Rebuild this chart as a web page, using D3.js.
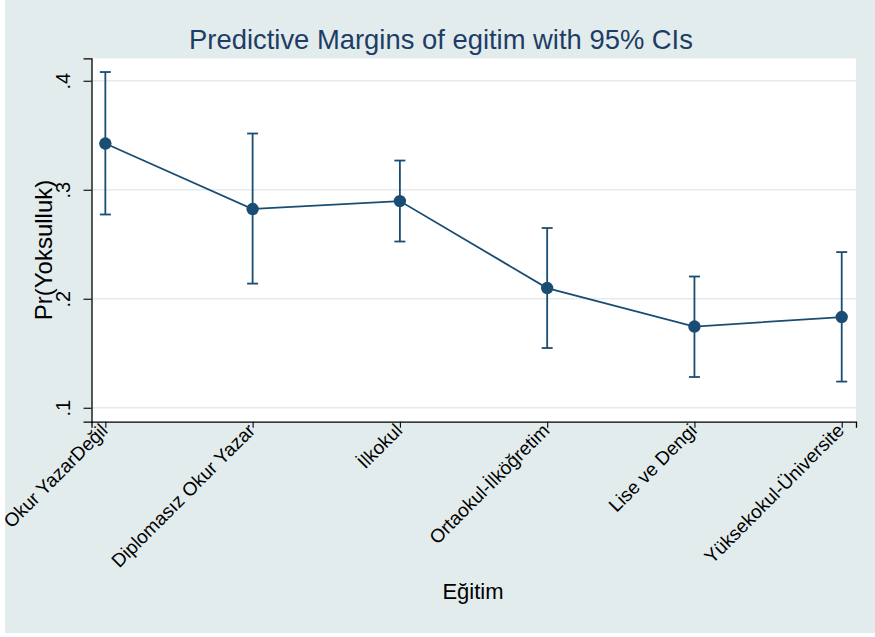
<!DOCTYPE html>
<html>
<head>
<meta charset="utf-8">
<script src="https://cdn.jsdelivr.net/npm/d3@7"></script>
<style>
  body { margin: 0; background: #fff; }
  text { font-family: "Liberation Sans", Arial, sans-serif; }
</style>
</head>
<body>
<div id="chart"></div>
<script>
// categories and margins
const categories = ["Okur YazarDeğil", "Diplomasız Okur Yazar", "İlkokul",
                    "Ortaokul-İlköğretim", "Lise ve Dengi", "Yüksekokul-Üniversite"];
const margins = [0.3424, 0.2823, 0.2896, 0.2098, 0.1745, 0.1832];
const ciLow   = [0.2773, 0.2139, 0.2525, 0.1548, 0.1282, 0.1240];
const ciHigh  = [0.4080, 0.3516, 0.3268, 0.2649, 0.2204, 0.2428];
const yTicks = [0.1, 0.2, 0.3, 0.4];

const w = 875, h = 637;
const plotL = 91.5, plotR = 856, plotT = 58.3, plotB = 421.7;
const navy = "#1a4d73";

const svg = d3.select("#chart").append("svg")
    .attr("width", w).attr("height", h);

// outer background
svg.append("rect").attr("x", 5).attr("y", 0).attr("width", w - 5).attr("height", 633)
    .attr("fill", "#e3ecec");
svg.append("rect").attr("x", plotL).attr("y", plotT)
    .attr("width", plotR - plotL).attr("height", plotB - plotT).attr("fill", "#fff");

const xScale = d3.scaleLinear().domain([0.906, 6.097]).range([plotL, plotR]);
const yScale = d3.scaleLinear().domain([0.0872, 0.4206]).range([plotB, plotT]);

// grid
svg.append("g").selectAll("line").data(yTicks).enter().append("line")
    .attr("x1", plotL).attr("x2", plotR)
    .attr("y1", d => yScale(d)).attr("y2", d => yScale(d))
    .attr("stroke", "#e3ecec").attr("stroke-width", 1.6);

// y axis
const yAxis = d3.axisLeft(yScale).tickValues(yTicks).tickSize(8)
    .tickFormat(d => d3.format(".1f")(d).replace(/^0/, ""));
const gy = svg.append("g").attr("transform", "translate(" + plotL + ",0)").call(yAxis);
gy.select(".domain").attr("stroke", "#000").attr("stroke-width", 1.3);
gy.selectAll(".tick line").attr("stroke", "#000").attr("stroke-width", 1.1);
gy.selectAll(".tick text")
    .attr("font-size", 20).attr("fill", "#000")
    .attr("text-anchor", "middle")
    .attr("x", 0).attr("y", 0).attr("dy", 0)
    .attr("transform", "translate(-22,0) rotate(-90)");

// x axis
const xAxis = d3.axisBottom(xScale).tickValues(d3.range(1, 7)).tickSize(6)
    .tickFormat(d => categories[d - 1]);
const gx = svg.append("g").attr("transform", "translate(0," + plotB + ")").call(xAxis);
gx.select(".domain").attr("stroke", "#000").attr("stroke-width", 1.3);
gx.selectAll(".tick line").attr("stroke", "#000").attr("stroke-width", 1.1);
gx.selectAll(".tick text")
    .attr("font-size", 19).attr("fill", "#000")
    .attr("text-anchor", "end")
    .attr("x", 0).attr("y", 0).attr("dy", 0)
    .attr("transform", "translate(3,10) rotate(-45)");

// axis titles
svg.append("text")
    .attr("transform", "translate(52,250) rotate(-90)")
    .attr("text-anchor", "middle").attr("font-size", 24).attr("fill", "#000")
    .text("Pr(Yoksulluk)");
svg.append("text")
    .attr("x", 473).attr("y", 599)
    .attr("text-anchor", "middle").attr("font-size", 22).attr("fill", "#000")
    .text("Eğitim");

// title
svg.append("text")
    .attr("x", 441).attr("y", 49)
    .attr("text-anchor", "middle").attr("font-size", 27.4).attr("fill", "#1e3d66")
    .text("Predictive Margins of egitim with 95% CIs");

// CI bars
const ci = svg.append("g");
margins.forEach((m, i) => {
  const x = xScale(i + 1);
  ci.append("line").attr("x1", x).attr("x2", x)
      .attr("y1", yScale(ciLow[i])).attr("y2", yScale(ciHigh[i]))
      .attr("stroke", navy).attr("stroke-width", 1.8);
  [ciLow[i], ciHigh[i]].forEach(v => {
    ci.append("line").attr("x1", x - 5.5).attr("x2", x + 5.5)
        .attr("y1", yScale(v)).attr("y2", yScale(v))
        .attr("stroke", navy).attr("stroke-width", 1.8);
  });
});

// connecting line and markers
const line = d3.line().x((d, i) => xScale(i + 1)).y(d => yScale(d));
svg.append("path").datum(margins).attr("d", line)
    .attr("fill", "none").attr("stroke", navy).attr("stroke-width", 1.8);

svg.selectAll("circle.pt").data(margins).enter().append("circle")
    .attr("class", "pt")
    .attr("cx", (d, i) => xScale(i + 1)).attr("cy", d => yScale(d))
    .attr("r", 6.2).attr("fill", navy);
</script>
</body>
</html>
